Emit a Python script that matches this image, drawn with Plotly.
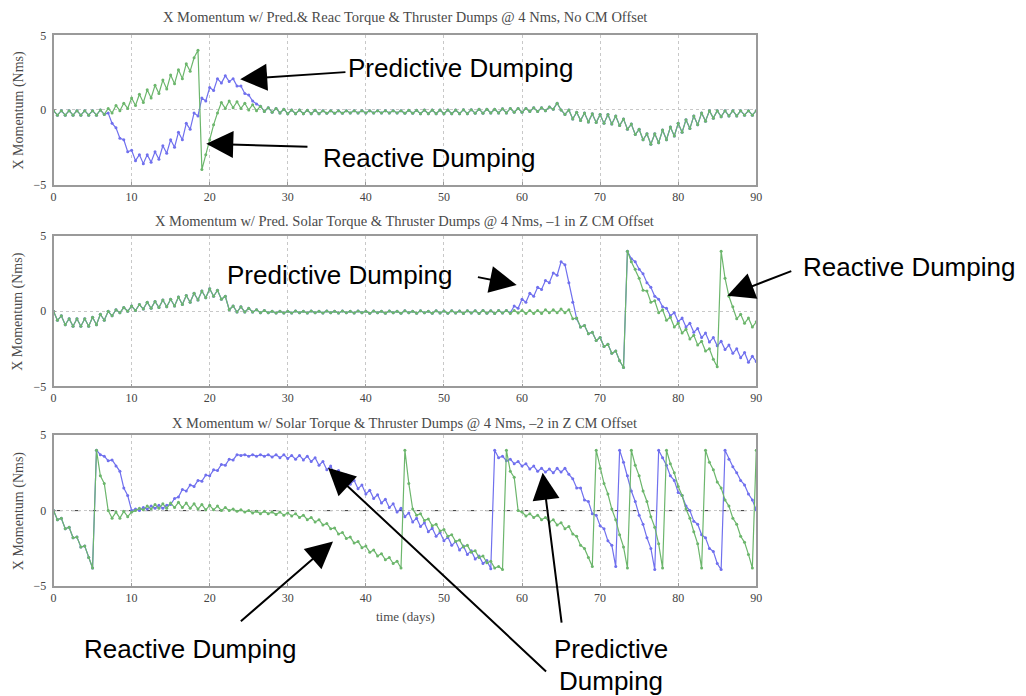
import plotly.graph_objects as go

# ---------------- data (half-day samples) -------------
days = [i / 2 for i in range(181)]  # 0 .. 90 days

# Panel 1 : No CM offset
p1_reactive = (
    [-0.05, -0.35, -0.05, -0.35, -0.05, -0.35, -0.05, -0.35, -0.05, -0.35, -0.05, -0.35, 0.0, -0.3, 0.1, -0.2, 0.3, -0.05, 0.45, 0.1]
    + [0.8, 0.3, 1.05, 0.5, 1.35, 0.8, 1.65, 1.1, 2.0, 1.4, 2.35, 1.75, 2.7, 2.1, 3.1, 2.6, 3.5, 4.0, -4.0, -3.0]
    + [-2.0, -1.0, -0.2, 0.5, 0.1, 0.6, 0.15, 0.55, 0.1, 0.45, 0.0, 0.35, -0.05, 0.25, -0.1, 0.15, -0.15, 0.1, -0.2, 0.05]
    + [-0.25, 0.0, -0.25, 0.0, -0.25, -0.02, -0.25, -0.02, -0.25, -0.05, -0.22, -0.05, -0.22, -0.05, -0.22, -0.05, -0.2, -0.05, -0.2, -0.05]
    + [-0.2, -0.05, -0.2, -0.05, -0.2, -0.05, -0.2, -0.05, -0.2, -0.05, -0.22, -0.02, -0.22, -0.02, -0.25, 0.0, -0.25, 0.0, -0.25, 0.0]
    + [-0.25, 0.0, -0.25, 0.0, -0.25, 0.02, -0.25, 0.02, -0.22, 0.05, -0.22, 0.05, -0.2, 0.05, -0.2, 0.08, -0.2, 0.1, -0.15, 0.1]
    + [-0.15, 0.1, -0.1, 0.15, -0.1, 0.15, -0.05, 0.2, 0.05, 0.45, 0.0, -0.3, 0.0, -0.6, -0.15, -0.7, -0.2, -0.8, -0.25, -0.85]
    + [-0.3, -0.9, -0.3, -0.95, -0.4, -1.05, -0.6, -1.3, -0.95, -1.65, -1.3, -2.0, -1.6, -2.3, -1.6, -2.2, -1.35, -2.0, -1.15, -1.75]
    + [-0.9, -1.5, -0.65, -1.25, -0.4, -1.0, -0.2, -0.75, -0.05, -0.55, -0.05, -0.45, -0.05, -0.4, -0.05, -0.4, -0.05, -0.35, -0.05, -0.35]
    + [-0.05]
)
p1_predictive = (
    [-0.05, -0.35, -0.05, -0.35, -0.05, -0.35, -0.05, -0.35, -0.05, -0.35, -0.05, -0.35, 0.0, -0.3, -0.2, -0.9, -1.2, -1.9, -2.0, -2.8]
    + [-2.7, -3.4, -3.0, -3.6, -3.0, -3.5, -2.8, -3.3, -2.4, -2.9, -2.0, -2.5, -1.5, -2.0, -0.9, -1.3, -0.2, -0.4, 0.8, 0.6]
    + [1.5, 1.3, 2.1, 1.8, 2.3, 1.9, 2.1, 1.6, 1.6, 1.1, 1.0, 0.6, 0.4, 0.25, -0.1, 0.15, -0.15, 0.1, -0.2, 0.05]
    + [-0.25, 0.0, -0.25, 0.0, -0.25, -0.02, -0.25, -0.02, -0.25, -0.05, -0.22, -0.05, -0.22, -0.05, -0.22, -0.05, -0.2, -0.05, -0.2, -0.05]
    + [-0.2, -0.05, -0.2, -0.05, -0.2, -0.05, -0.2, -0.05, -0.2, -0.05, -0.22, -0.02, -0.22, -0.02, -0.25, 0.0, -0.25, 0.0, -0.25, 0.0]
    + [-0.25, 0.0, -0.25, 0.0, -0.25, 0.02, -0.25, 0.02, -0.22, 0.05, -0.22, 0.05, -0.2, 0.05, -0.2, 0.08, -0.2, 0.1, -0.15, 0.1]
    + [-0.15, 0.1, -0.1, 0.15, -0.1, 0.15, -0.05, 0.2, 0.05, 0.45, 0.0, -0.3, 0.0, -0.6, -0.15, -0.7, -0.2, -0.8, -0.25, -0.85]
    + [-0.3, -0.9, -0.3, -0.95, -0.4, -1.05, -0.6, -1.3, -0.95, -1.65, -1.3, -2.0, -1.6, -2.3, -1.6, -2.2, -1.35, -2.0, -1.15, -1.75]
    + [-0.9, -1.5, -0.65, -1.25, -0.4, -1.0, -0.2, -0.75, -0.05, -0.55, -0.05, -0.45, -0.05, -0.4, -0.05, -0.4, -0.05, -0.35, -0.05, -0.35]
    + [-0.05]
)

# Panel 2 : -1 in Z CM offset
p2_reactive = (
    [0.0, -0.6, -0.3, -0.9, -0.5, -1.0, -0.5, -1.0, -0.5, -1.0, -0.4, -0.9, -0.2, -0.6, 0.0, -0.3, 0.1, -0.1, 0.25, 0.0]
    + [0.35, 0.05, 0.45, 0.15, 0.6, 0.2, 0.65, 0.25, 0.75, 0.3, 0.8, 0.35, 0.95, 0.45, 1.05, 0.6, 1.2, 0.75, 1.35, 0.9]
    + [1.5, 1.0, 1.4, 0.8, 1.0, 0.1, 0.35, -0.05, 0.3, -0.05, 0.2, -0.05, 0.1, -0.1, 0.05, -0.1, 0.0, -0.12, 0.0, -0.12]
    + [0.0, -0.12, 0.02, -0.1, 0.0, -0.12, 0.02, -0.1, 0.0, -0.12, 0.02, -0.1, 0.0, -0.12, 0.02, -0.1, 0.0, -0.12, 0.02, -0.1]
    + [0.0, -0.13, 0.02, -0.1, 0.0, -0.13, 0.02, -0.1, 0.0, -0.13, 0.03, -0.1, 0.0, -0.13, 0.03, -0.1, 0.0, -0.14, 0.03, -0.12]
    + [0.02, -0.14, 0.03, -0.12, 0.02, -0.15, 0.04, -0.12, 0.03, -0.15, 0.05, -0.13, 0.03, -0.15, 0.05, -0.12, 0.05, -0.15, 0.05, -0.12]
    + [0.05, -0.15, 0.05, -0.15, 0.05, -0.15, 0.1, -0.1, 0.1, -0.1, 0.15, -0.1, 0.1, -0.5, -0.45, -1.05, -0.95, -1.5, -1.4, -1.95]
    + [-1.75, -2.35, -2.2, -2.8, -2.65, -3.3, -3.75, 4.0, 3.3, 2.8, 2.2, 1.4, 1.35, 0.6, 0.7, -0.1, 0.1, -0.6, -0.4, -1.05]
    + [-0.8, -1.45, -1.2, -1.85, -1.6, -2.25, -2.0, -2.65, -2.5, -3.2, -3.7, 4.0, 2.2, 1.0, 0.3, -0.5, -0.2, -0.8, -0.45, -1.05]
    + [-0.7]
)
p2_predictive = (
    [0.0, -0.6, -0.3, -0.9, -0.5, -1.0, -0.5, -1.0, -0.5, -1.0, -0.4, -0.9, -0.2, -0.6, 0.0, -0.3, 0.1, -0.1, 0.25, 0.0]
    + [0.35, 0.05, 0.45, 0.15, 0.6, 0.2, 0.65, 0.25, 0.75, 0.3, 0.8, 0.35, 0.95, 0.45, 1.05, 0.6, 1.2, 0.75, 1.35, 0.9]
    + [1.5, 1.0, 1.4, 0.8, 1.0, 0.1, 0.35, -0.05, 0.3, -0.05, 0.2, -0.05, 0.1, -0.1, 0.05, -0.1, 0.0, -0.12, 0.0, -0.12]
    + [0.0, -0.12, 0.02, -0.1, 0.0, -0.12, 0.02, -0.1, 0.0, -0.12, 0.02, -0.1, 0.0, -0.12, 0.02, -0.1, 0.0, -0.12, 0.02, -0.1]
    + [0.0, -0.13, 0.02, -0.1, 0.0, -0.13, 0.02, -0.1, 0.0, -0.13, 0.03, -0.1, 0.0, -0.13, 0.03, -0.1, 0.0, -0.14, 0.03, -0.12]
    + [0.02, -0.14, 0.03, -0.12, 0.02, -0.15, 0.04, -0.12, 0.03, -0.15, 0.05, -0.13, 0.03, -0.15, 0.05, -0.12, 0.05, -0.1, 0.35, 0.2]
    + [0.8, 0.6, 1.2, 1.0, 1.6, 1.45, 2.05, 1.9, 2.55, 2.4, 3.3, 3.1, 1.9, 0.6, -0.5, -1.05, -0.95, -1.5, -1.4, -1.95]
    + [-1.75, -2.35, -2.2, -2.8, -2.65, -3.3, -3.75, 4.0, 3.5, 3.3, 2.8, 2.5, 1.9, 1.6, 1.0, 0.8, 0.3, 0.2, -0.3, -0.1]
    + [-0.7, -0.45, -1.05, -0.8, -1.4, -1.15, -1.75, -1.45, -2.05, -1.75, -2.3, -2.0, -2.55, -2.25, -2.8, -2.5, -3.1, -2.75, -3.4, -3.0]
    + [-3.35]
)

# Panel 3 : -2 in Z CM offset
p3_reactive = (
    [0.0, -0.6, -0.5, -1.2, -1.1, -1.8, -1.75, -2.4, -2.35, -3.1, -3.8, 4.0, 2.3, 1.8, 0.0, -0.5, -0.1, -0.5, -0.05, -0.4]
    + [-0.1, 0.0, 0.15, 0.05, 0.3, 0.1, 0.4, 0.15, 0.45, 0.15, 0.5, 0.2, 0.55, 0.2, 0.5, 0.15, 0.45, 0.1, 0.4, 0.05]
    + [0.35, 0.05, 0.3, 0.0, 0.2, 0.0, 0.1, -0.05, 0.05, -0.1, 0.0, -0.15, -0.05, -0.2, -0.05, -0.2, -0.1, -0.25, -0.1, -0.3]
    + [-0.15, -0.35, -0.2, -0.45, -0.3, -0.6, -0.45, -0.75, -0.6, -0.95, -0.85, -1.2, -1.15, -1.55, -1.45, -1.85, -1.75, -2.15, -2.05, -2.45]
    + [-2.35, -2.75, -2.6, -3.0, -2.85, -3.25, -3.1, -3.5, -3.35, -3.8, 4.0, 1.8, 0.1, -0.3, -0.2, -0.65, -0.55, -1.0, -0.9, -1.35]
    + [-1.25, -1.7, -1.6, -2.05, -1.95, -2.4, -2.3, -2.75, -2.65, -3.1, -3.0, -3.45, -3.35, -3.8, -3.7, -3.9, 4.0, 2.6, 2.2, 0.0]
    + [-0.1, -0.35, -0.2, -0.45, -0.3, -0.6, -0.45, -0.75, -0.6, -0.95, -0.8, -1.2, -1.05, -1.55, -1.7, -2.3, -2.5, -3.1, -3.7, 4.0]
    + [2.8, 1.8, 1.1, 0.1, -0.6, -1.6, -2.4, -3.8, 4.0, 3.0, 2.3, 1.3, 0.6, -0.4, -1.1, -2.2, -3.8, 4.0, 3.1, 2.5]
    + [1.6, 1.0, 0.1, -0.5, -1.4, -2.2, -3.8, 4.0, 3.2, 2.7, 1.9, 1.5, 0.7, 0.3, -0.5, -0.9, -1.7, -2.1, -2.9, -3.8]
    + [4.0]
)
p3_predictive = (
    [0.0, -0.6, -0.5, -1.2, -1.1, -1.8, -1.75, -2.4, -2.35, -3.1, -3.8, 4.0, 3.7, 3.6, 3.3, 3.35, 2.95, 2.6, 1.5, 1.0]
    + [0.0, 0.1, 0.0, 0.2, 0.1, 0.3, 0.15, 0.35, 0.15, 0.35, 0.4, 0.8, 0.9, 1.4, 1.3, 1.7, 1.6, 2.0, 1.95, 2.35]
    + [2.3, 2.7, 2.65, 3.05, 3.0, 3.4, 3.35, 3.7, 3.65, 3.7, 3.6, 3.7, 3.6, 3.7, 3.6, 3.7, 3.55, 3.7, 3.5, 3.7]
    + [3.45, 3.65, 3.4, 3.65, 3.35, 3.6, 3.25, 3.5, 3.0, 3.25, 2.7, 2.95, 2.4, 2.65, 2.1, 2.35, 1.75, 2.0, 1.45, 1.7]
    + [1.1, 1.35, 0.8, 1.05, 0.5, 0.75, 0.2, 0.45, -0.1, 0.15, -0.4, -0.15, -0.75, -0.5, -1.05, -0.8, -1.4, -1.15, -1.7, -1.45]
    + [-2.0, -1.75, -2.3, -2.05, -2.6, -2.35, -2.9, -2.65, -3.2, -3.0, -3.5, -3.3, -3.85, 4.0, 3.5, 3.6, 3.3, 3.4, 3.1, 3.25]
    + [2.95, 3.1, 2.75, 2.95, 2.6, 2.8, 2.55, 2.75, 2.5, 2.8, 2.55, 2.8, 2.4, 2.1, 1.5, 1.5, 0.7, 0.6, -0.2, -0.3]
    + [-1.0, -1.2, -2.0, -2.3, -3.7, 4.0, 3.2, 2.3, 1.3, 0.6, -0.3, -0.9, -1.8, -2.5, -3.9, 4.0, 3.5, 3.0, 2.3, 2.0]
    + [1.2, 1.0, 0.3, 0.0, -0.7, -0.9, -1.6, -1.8, -2.5, -2.7, -3.5, -3.9, 4.0, 3.4, 2.9, 2.5, 2.0, 1.7, 1.1, 0.7]
    + [0.05]
)

for s in (p1_reactive, p1_predictive, p2_reactive, p2_predictive, p3_reactive, p3_predictive):
    assert len(s) == len(days), len(s)

x_ticks = [0, 10, 20, 30, 40, 50, 60, 70, 80, 90]
y_ticks = [-5, 0, 5]
y_ticktext = ["\u22125", "0", "5"]

titles = [
    "X Momentum w/ Pred.& Reac Torque & Thruster Dumps @ 4 Nms, No CM Offset",
    "X Momentum w/ Pred. Solar Torque & Thruster Dumps @ 4 Nms, \u20131 in Z CM Offset",
    "X Momentum w/ Solar Torque & Thruster Dumps @ 4 Nms, \u20132 in Z CM Offset",
]
y_title = "X Momentum (Nms)"
x_title = "time (days)"

# ---------------- layout helpers ----------------
W, H = 1026, 696
# screen offset/scale correction observed in the rendered page
OX, SX = 10.4, 0.993
OY, SY = 12.5, 0.9856


def px(x):
    return ((x - OX) / SX) / W


def py(y):
    return 1 - ((y - OY) / SY) / H


XL, XR = 53, 757
panels = [(33, 183), (235, 386), (435, 587)]
title_y = [15, 220, 423]

BLUE = "rgb(112,112,238)"
GREEN = "rgb(108,182,108)"
SERIF = "Liberation Serif, Times New Roman, serif"
SANS = "Liberation Sans, Arial, sans-serif"

fig = go.Figure()
series = [(p1_predictive, p1_reactive), (p2_predictive, p2_reactive), (p3_predictive, p3_reactive)]
layout_axes = {}
for i, (top, bot) in enumerate(panels):
    sfx = "" if i == 0 else str(i + 1)
    pred, reac = series[i]
    fig.add_trace(go.Scatter(x=days, y=pred, mode="lines+markers", xaxis="x" + sfx, yaxis="y" + sfx,
                             line=dict(color=BLUE, width=1.2), marker=dict(size=3, color=BLUE),
                             showlegend=False, hoverinfo="skip"))
    fig.add_trace(go.Scatter(x=days, y=reac, mode="lines+markers", xaxis="x" + sfx, yaxis="y" + sfx,
                             line=dict(color=GREEN, width=1.2), marker=dict(size=3, color=GREEN),
                             showlegend=False, hoverinfo="skip"))
    layout_axes["xaxis" + sfx] = dict(
        domain=[px(XL), px(XR)], range=[0, 90], anchor="y" + sfx,
        tickmode="array", tickvals=x_ticks, ticks="inside", ticklen=3, tickcolor="#999",
        showgrid=True, gridcolor="#c8c8c8", griddash="dot", gridwidth=1,
        showline=True, linecolor="#9a9a9a", linewidth=1.5, mirror=True, zeroline=False,
        tickfont=dict(family=SERIF, size=12, color="#444"),
    )
    layout_axes["yaxis" + sfx] = dict(
        domain=[py(bot), py(top)], range=[-5, 5], anchor="x" + sfx,
        tickmode="array", tickvals=y_ticks, ticktext=y_ticktext, ticks="inside", ticklen=3, tickcolor="#999",
        showgrid=True, gridcolor="#c8c8c8", griddash="dot", gridwidth=1,
        showline=True, linecolor="#9a9a9a", linewidth=1.5, mirror=True, zeroline=False,
        tickfont=dict(family=SERIF, size=12, color="#444"), ticklabelstandoff=3,
    )

fig.update_layout(**layout_axes)

# dashed zero line in the bottom panel
fig.add_shape(type="line", xref="x3", yref="y3", x0=0, x1=90, y0=0, y1=0,
              line=dict(color="#333", width=1, dash="dash"), layer="below")

annotations = []
# panel titles
for t, ty in zip(titles, title_y):
    annotations.append(dict(text=t, x=px((XL + XR) / 2), y=py(ty), xref="paper", yref="paper",
                            showarrow=False, xanchor="center", yanchor="middle",
                            font=dict(family=SERIF, size=14.5, color="#4a4a4a")))
# y titles
for (top, bot) in panels:
    annotations.append(dict(text=y_title, x=px(18), y=py((top + bot) / 2), xref="paper", yref="paper",
                            showarrow=False, textangle=-90, xanchor="center", yanchor="middle",
                            font=dict(family=SERIF, size=14, color="#4a4a4a")))
# x title
annotations.append(dict(text=x_title, x=px(406), y=py(618), xref="paper", yref="paper",
                        showarrow=False, xanchor="center", yanchor="middle",
                        font=dict(family=SERIF, size=13, color="#4a4a4a")))

# callout texts: (text, x, y, xanchor)
callouts = [
    ("Predictive Dumping", 346, 66, "left"),
    ("Reactive Dumping", 321, 156, "left"),
    ("Predictive Dumping", 225, 274, "left"),
    ("Reactive Dumping", 1018, 266, "right"),
    ("Reactive Dumping", 82, 650, "left"),
    ("Predictive", 611, 650, "center"),
    ("Dumping", 611, 682, "center"),
]
for txt, x, y, anc in callouts:
    annotations.append(dict(text=txt, x=px(x), y=py(y), xref="paper", yref="paper",
                            showarrow=False, xanchor=anc, yanchor="middle", align="center",
                            font=dict(family=SANS, size=26, color="black")))

# arrows: (tip_x, tip_y, tail_x, tail_y) in pixels
arrows = [
    (240, 77, 346, 70),
    (206, 142, 308, 145),
    (517, 284, 477, 276),
    (728, 295, 793, 270),
    (333, 542, 240, 622),
    (328, 468, 546, 670),
    (543, 473, 562, 622),
]
for tx, ty, sx, sy in arrows:
    annotations.append(dict(text="", x=px(tx), y=py(ty), xref="paper", yref="paper",
                            showarrow=True, ax=(sx - tx) / SX, ay=(sy - ty) / SY, axref="pixel", ayref="pixel",
                            arrowhead=2, arrowsize=2.7, arrowwidth=2, arrowcolor="black", standoff=0))

fig.update_layout(
    width=W, height=H, margin=dict(l=0, r=0, t=0, b=0),
    paper_bgcolor="white", plot_bgcolor="white",
    annotations=annotations, showlegend=False,
)

fig.write_html("out.html")
